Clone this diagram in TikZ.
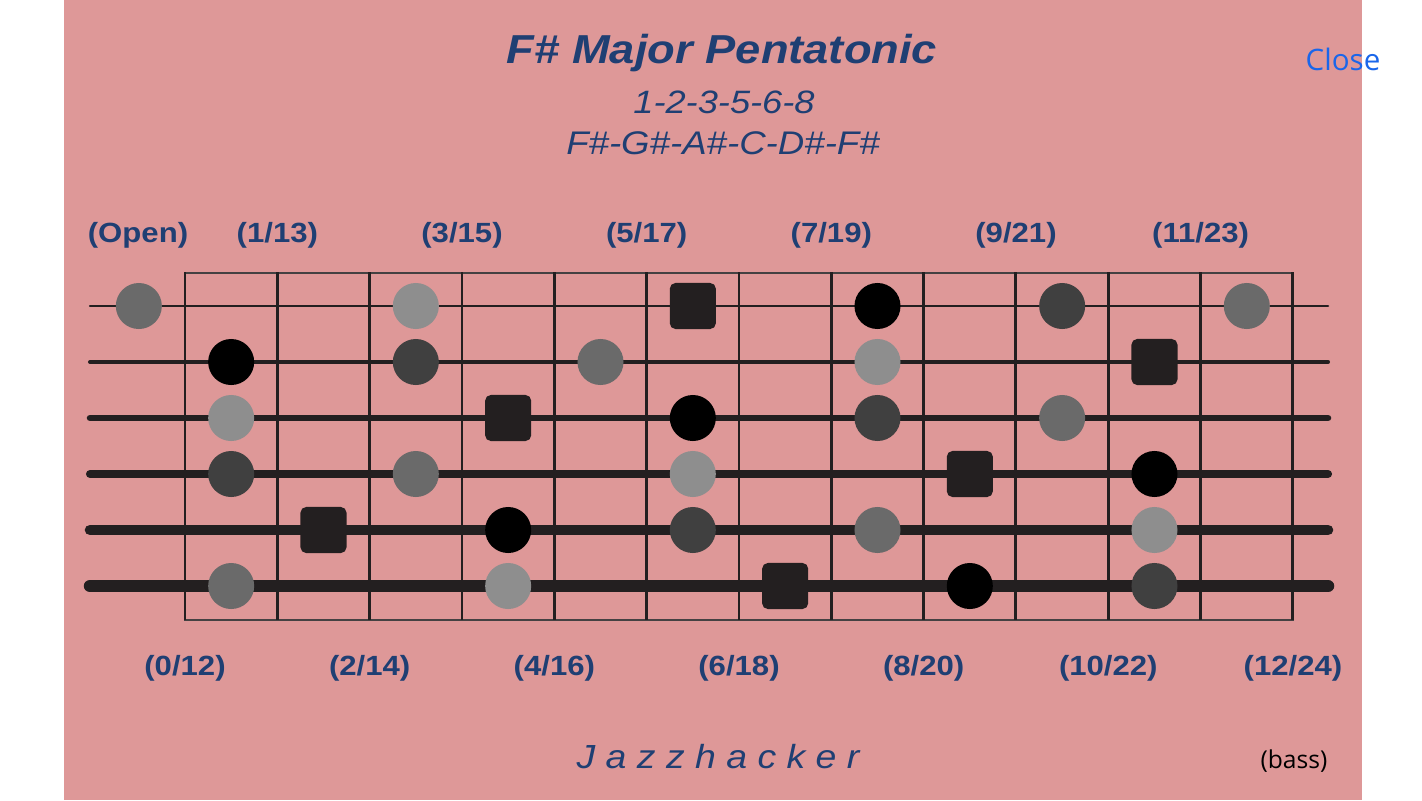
\documentclass[tikz,border=0pt]{standalone}
\usepackage{fontspec}
\setmainfont{Liberation Sans}
\newfontfamily\widefont{Liberation Sans}[FakeStretch=1.12]
\newfontfamily\uifont{Open Sans}
\definecolor{board}{HTML}{DE9898}
\definecolor{ink}{HTML}{1F3F73}
\definecolor{closeblue}{HTML}{1A66EA}
\definecolor{wire}{HTML}{231F20}
\definecolor{gA}{HTML}{000000}
\definecolor{gB}{HTML}{404040}
\definecolor{gC}{HTML}{6A6A6A}
\definecolor{gD}{HTML}{8E8E8E}

\begin{document}
\begin{tikzpicture}[x=0.01cm, y=-0.01cm]
\tikzset{ inner sep=0pt, outer sep=0pt,
  dot/.style={circle, minimum size=0.46cm},
  root/.style={rectangle, rounded corners=1.6pt, minimum size=0.46cm, fill=wire},
  fretlbl/.style={anchor=base, text=ink, font=\widefont\bfseries\fontsize{7.9}{9}\selectfont},
}

%\draw [lightgray, dashed](0,0) grid[step=100] (1422,800);
\useasboundingbox (0,0) rectangle (1422,800);
\fill [board] (64,0) rectangle (1362,800);

% titulo
\node [anchor=base, text=ink, font=\widefont\bfseries\itshape\fontsize{11.5}{13}\selectfont] (title) at (722,64) {F\# Major Pentatonic};
\node [anchor=base, text=ink, font=\widefont\itshape\fontsize{9.2}{11}\selectfont] (steps) at (724,113) {1-2-3-5-6-8};
\node [anchor=base, text=ink, font=\widefont\itshape\fontsize{9.3}{11}\selectfont] (notes) at (723,154) {F\#-G\#-A\#-C-D\#-F\#};
\node [anchor=base, text=closeblue, font=\uifont\fontsize{8.4}{10}\selectfont] (close) at (1343,70) {Close};

% trastes
\draw [line width=0.4pt, wire!85] (185,273) rectangle (1293,620);
\foreach \i in {0,...,12} {
  \coordinate (ft\i) at ({185+92.33*\i},272);
  \coordinate (fb\i) at ({185+92.33*\i},620);
  \draw [line width=0.85pt, wire] (ft\i) -- (fb\i);
}

% cordas
\foreach \s/\w in {1/0.7, 2/1.15, 3/1.85, 4/2.3, 5/3.0, 6/3.55} {
  \coordinate (sl\s) at (90,{306+56*(\s-1)});
  \coordinate (sr\s) at (1328,{306+56*(\s-1)});
  \draw [line width=\w pt, line cap=round, wire] (sl\s) -- (sr\s);
}

% notas
\foreach \s/\f/\c in {1/0/gC, 1/3/gD, 1/8/gA, 1/10/gB, 1/12/gC,
                      2/1/gA, 2/3/gB, 2/5/gC, 2/8/gD,
                      3/1/gD, 3/6/gA, 3/8/gB, 3/10/gC,
                      4/1/gB, 4/3/gC, 4/6/gD, 4/11/gA,
                      5/4/gA, 5/6/gB, 5/8/gC, 5/11/gD,
                      6/1/gC, 6/4/gD, 6/9/gA, 6/11/gB}
  \node [dot, fill=\c] (n\s-\f) at ({185+92.33*(\f-0.5)},{306+56*(\s-1)}) {};

% tonicas
\foreach \s/\f in {1/6, 2/11, 3/4, 4/9, 5/2, 6/7}
  \node [root] (r\s-\f) at ({185+92.33*(\f-0.5)},{306+56*(\s-1)}) {};

% casas
\node [fretlbl] (lopen) at (138,242) {(Open)};
\foreach \i in {1,3,...,11}
  \node [fretlbl] (lt\i) at ({185+92.33*\i},242) {(\i/\the\numexpr\i+12\relax)};
\foreach \i in {0,2,...,12}
  \node [fretlbl] (lb\i) at ({185+92.33*\i},675) {(\i/\the\numexpr\i+12\relax)};

\node [anchor=base, text=ink, font=\widefont\itshape\fontsize{9.5}{11}\selectfont] (brand) at (718,768) {J a z z h a c k e r};
\node [anchor=base, text=black, font=\uifont\fontsize{7}{9}\selectfont] (bass) at (1294,768) {(bass)};

\end{tikzpicture}
\end{document}
